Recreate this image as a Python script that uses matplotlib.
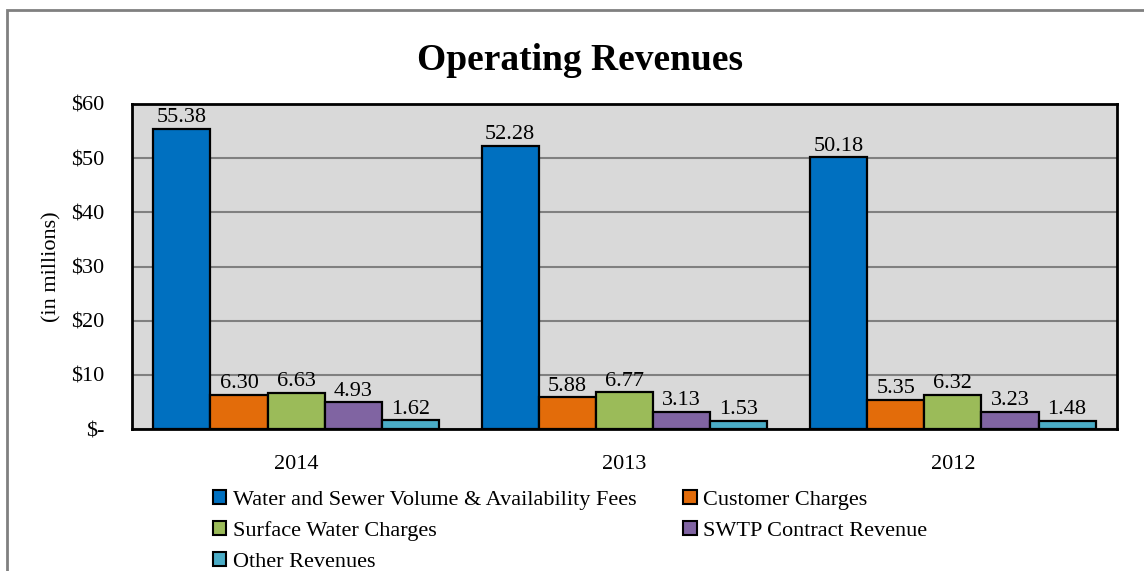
import matplotlib
matplotlib.use("Agg")
import matplotlib.pyplot as plt
import numpy as np
from matplotlib.patches import Rectangle, Patch

years = ["2014", "2013", "2012"]
series_names = ["Water and Sewer Volume & Availability Fees", "Customer Charges",
                "Surface Water Charges", "SWTP Contract Revenue", "Other Revenues"]
water_sewer = [55.38, 52.28, 50.18]
customer = [6.30, 5.88, 5.35]
surface = [6.63, 6.77, 6.32]
swtp = [4.93, 3.13, 3.23]
other = [1.62, 1.53, 1.48]
colors = ["#0070C0", "#E36C0A", "#9BBB59", "#8064A2", "#4BACC6"]
yticks = [0, 10, 20, 30, 40, 50, 60]
ytick_labels = ["$-", "$10", "$20", "$30", "$40", "$50", "$60"]

series = [water_sewer, customer, surface, swtp, other]

plt.rcParams['font.family'] = ['Liberation Serif', 'DejaVu Serif']

fig = plt.figure(figsize=(11.44, 5.71), dpi=100)
W, H = 1144, 571
# outer frame
fig.patches.append(Rectangle((7 / W, -0.5), 2.0, 1 - 10 / H + 0.5, transform=fig.transFigure,
                             fill=False, edgecolor="#808080", linewidth=2))

ax = fig.add_axes([132 / W, 1 - 429 / H, 985 / W, 325 / H])
ax.set_facecolor("#D9D9D9")
x = np.arange(len(years))
bw = 0.174
start = -0.435
FS = 16
for i, (vals, c) in enumerate(zip(series, colors)):
    pos = x + start + bw * (i + 0.5)
    bars = ax.bar(pos, vals, width=bw, color=c, edgecolor="black", linewidth=1.6, zorder=3)
    for b, v in zip(bars, vals):
        ax.text(b.get_x() + b.get_width() / 2, v + 0.3, f"{v:.2f}", ha="center", va="bottom",
                fontsize=FS, zorder=4)

ax.set_xlim(-0.5, 2.5)
ax.set_ylim(0, 60)
ax.set_yticks(yticks)
ax.set_yticklabels(ytick_labels, fontsize=FS)
ax.set_xticks(x)
ax.set_xticklabels(years, fontsize=FS)
ax.tick_params(axis="both", length=0)
ax.tick_params(axis="y", pad=20)
ax.tick_params(axis="x", pad=19)
ax.yaxis.grid(True, color="#808080", linewidth=1.5, zorder=0)
ax.set_axisbelow(True)
for s in ax.spines.values():
    s.set_linewidth(2)
    s.set_color("black")
ax.set_ylabel("(in millions)", fontsize=FS, labelpad=7)

fig.text(580 / W, 1 - 60 / H, "Operating Revenues", ha="center", va="center",
         fontsize=27, fontweight="bold")

handles = [Patch(facecolor=c, edgecolor="black", linewidth=1.5) for c in colors]
order = [0, 2, 4, 1, 3]
leg = fig.legend([handles[i] for i in order], [series_names[i] for i in order],
                 ncol=2, frameon=False, loc="upper left",
                 bbox_to_anchor=(202 / W, 1 - 479 / H), fontsize=FS,
                 handlelength=0.6, handleheight=0.6, handletextpad=0.3,
                 columnspacing=2.1, labelspacing=0.5, borderpad=0)

fig.savefig("out.png", dpi=100)
